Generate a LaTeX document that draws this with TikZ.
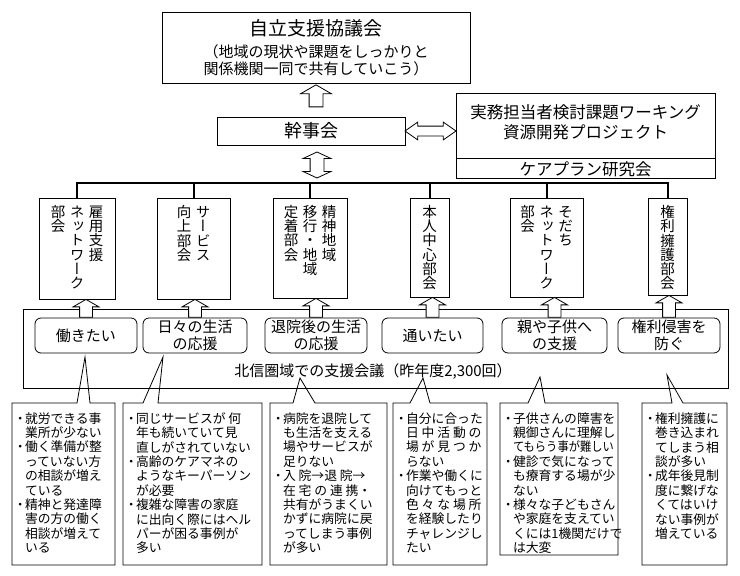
\documentclass[tikz,border=0pt]{standalone}
\usepackage{fontspec}
\setmainfont{Noto Sans CJK JP}
\newfontfamily\tatefont[RawFeature=+vert]{Noto Sans CJK JP}
\usetikzlibrary{shapes.arrows,calc}
\newcommand\tatecol[1]{\parbox[t]{14.5pt}{\centering\lineskiplimit=-100pt\baselineskip=14.2pt\relax #1}}
\newcommand\bul{\makebox[.75em]{・}}
\newcommand\ind{\hspace*{.75em}}
\newcommand\shaft[1]{\phantom{\rule{#1pt}{#1pt}}}
\begin{document}
\begin{tikzpicture}[x=1pt,y=-1pt,line width=.8pt,font=\fontsize{15}{17}\selectfont,
  box/.style={draw,inner sep=0pt,align=center},
  bukai/.style={draw,anchor=north,inner sep=0pt,minimum width=#1},
  tate/.style={anchor=north,inner sep=0pt,font=\tatefont\fontsize{14.5}{14.2}\selectfont},
  youbou/.style={draw,rounded corners=6pt,align=center,inner sep=0pt,minimum height=35,font=\fontsize{15}{16.5}\selectfont},
  kadai/.style={anchor=north west,align=left,inner sep=0pt,font=\fontsize{12.8}{14.4}\selectfont},
  uparrow/.style={single arrow,draw,fill=white,shape border rotate=90,inner sep=0pt,
    single arrow head extend=6.5,single arrow tip angle=120,minimum height=#1},
  dblarrow/.style={double arrow,draw,fill=white,inner sep=0pt,minimum height=#1}]
\useasboundingbox (0,0) rectangle (740,576);
\node[box,minimum width=308,minimum height=71] (kyogikai) at (316,47.5)
  {{\fontsize{19}{19}\selectfont 自立支援協議会}\\[5pt]（地域の現状や課題をしっかりと\\関係機関一同で共有していこう）};
\node[box,minimum width=188,minimum height=28,font=\fontsize{18}{20}\selectfont] (kanjikai) at (311,131) {幹事会};
\node[box,minimum width=259,minimum height=65] (wg) at (585.5,125.5) {};
\node[align=center,inner sep=0pt,font=\fontsize{16.5}{20}\selectfont] (wglabel) at ([yshift=3.5pt]wg.center)
  {実務担当者検討課題ワーキング\\資源開発プロジェクト};
\node[box,minimum width=259,minimum height=20,anchor=north,font=\fontsize{16.5}{18}\selectfont] (careplan) at (wg.south) {ケアプラン研究会};
\node[uparrow=22,single arrow head extend=8.5,anchor=tip] (ar0) at ([yshift=-1pt]kyogikai.south) {\shaft{13}};
\node[dblarrow=51,double arrow head extend=4,double arrow tip angle=70] (ar1)
  at ($(kanjikai.east)!.5!(kanjikai.east-|wg.west)$) {\shaft{9}};
\node[dblarrow=26,double arrow head extend=7,double arrow tip angle=130,shape border rotate=90] (ar2)
  at (317,165) {\shaft{13}};
\foreach \n/\x/\w/\h/\txt in {
  1/77/76/101/{\tatecol{部\\会}\kern4.5pt\tatecol{ネ\\ッ\\ト\\ワ\\ー\\ク}\kern4.5pt\tatecol{雇\\用\\支\\援}},
  2/193.5/73/101/{\tatecol{向\\上\\部\\会}\kern4.5pt\tatecol{サ\\ー\\ビ\\ス}},
  3/310/74/100/{\tatecol{定\\着\\部\\会}\kern4.5pt\tatecol{移\\行\\・\\地\\域}\kern4.5pt\tatecol{精\\神\\地\\域}},
  4/429.5/39/99/{\tatecol{本\\人\\中\\心\\部\\会}},
  5/546.5/73/99/{\tatecol{部\\会}\kern4.5pt\tatecol{ネ\\ッ\\ト\\ワ\\ー\\ク}\kern4.5pt\tatecol{そ\\だ\\ち}},
  6/667.5/39/97/{\tatecol{権\\利\\擁\\護\\部\\会}}}
{
  \node[bukai=\w,minimum height=\h] (bu\n) at (\x,198) {};
  \node[tate] (bt\n) at ([yshift=-7pt]bu\n.north) {\txt};
}
\draw[line width=2pt] (bu1.north) -- ++(0,-15) -| (bu6.north);
\foreach \n in {2,...,5}
  \draw[line width=2pt] (bu\n.north) -- ++(0,-15);
\node[draw,inner sep=0pt,minimum width=705,minimum height=79] (kaigi) at (375.5,348.5) {};
\node (kaigilabel) at (373,372) {北信圏域での支援会議（昨年度2,300回）};
\foreach \i/\x/\w/\txt in {1/86/102/働きたい, 2/195/104/{日々の生活\\の応援}, 3/316/102/{退院後の生活\\の応援},
    4/432.5/101/通いたい, 5/554.5/105/{親や子供へ\\の支援}, 6/669/102/{権利侵害を\\防ぐ}}
{
  \node[youbou,minimum width=\w] (yb\i) at (\x,335.5) {\txt};
  \path let \p1=(yb\i.north), \p2=(bu\i.south) in
    node[uparrow={\y2-(\y1)},anchor=tail] (ua\i) at (yb\i.north) {\shaft{12}};
}
\foreach \n/\l/\r/\b/\pa/\pb/\tx/\ty/\txt in {
  1/12/115/565/77/90/85/357/{\bul 就労できる事\\\ind 業所が少ない\\\bul 働く準備が整\\\ind っていない方\\\ind の相談が増え\\\ind ている\\\bul 精神と発達障\\\ind 害の方の働く\\\ind 相談が増えて\\\ind いる},
  2/123/262/565/143/158/163/357/{\bul 同じサービスが 何\\\ind 年も続いていて見\\\ind 直しがされていない\\\bul 高齢のケアマネの\\\ind ようなキーパーソン\\\ind が必要\\\bul 複雑な障害の家庭\\\ind に出向く際にはヘル\\\ind パーが困る事例が\\\ind 多い},
  3/270/387/565/293/315/300/378/{\bul 病院を退院して\\\ind も生活を支える\\\ind 場やサービスが\\\ind 足りない\\\bul 入 院→退 院→\\\ind 在 宅 の 連 携・\\\ind 共有がうまくい\\\ind かずに病院に戻\\\ind ってしまう事例\\\ind が多い},
  4/393/487/565/410/430/423/378/{\bul 自分に合った\\\ind 日 中 活 動 の\\\ind 場 が 見 つ か\\\ind らない\\\bul 作業や働くに\\\ind 向けてもっと\\\ind 色 々 な 場 所\\\ind を経験したり\\\ind チャレンジし\\\ind たい},
  5/500/618/555/528/545/540/377/{\bul 子供さんの障害を\\\ind 親御さんに理解し\\\ind \scalebox{.88}[1]{てもらう事が難しい}\\\bul 健診で気になって\\\ind も療育する場が少\\\ind ない\\\bul 様々な子どもさん\\\ind や家庭を支えてい\\\ind くには1機関だけで\\\ind は大変},
  6/642/727/565/672/683/667/375/{\bul 権利擁護に\\\ind 巻き込まれ\\\ind てしまう相\\\ind 談が多い\\\bul 成年後見制\\\ind 度に繋げな\\\ind くてはいけ\\\ind ない事例が\\\ind 増えている}}
{
  \draw (\l,403) -- (\pa,403) -- (\tx,\ty) -- (\pb,403) -- (\r,403) |- (\l,\b) -- cycle;
  \node[kadai] (kd\n) at (\l+3,412) {\txt};
}
\end{tikzpicture}
\end{document}
